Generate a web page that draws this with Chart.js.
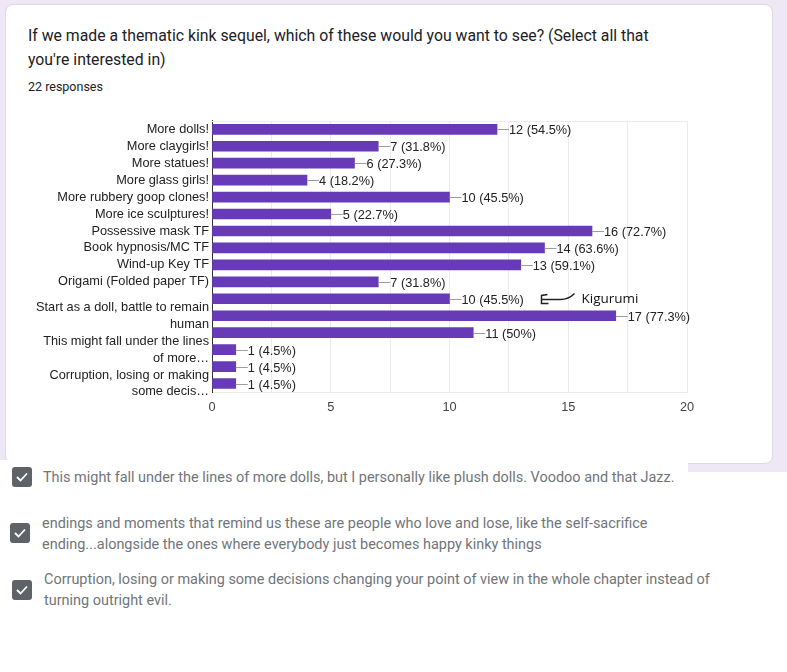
<!DOCTYPE html>
<html>
<head>
<meta charset="utf-8">
<script src="https://cdn.jsdelivr.net/npm/chart.js@4.4.1/dist/chart.umd.min.js"></script>
<style>
  body { margin: 0; width: 787px; height: 672px; background: #fff; position: relative; overflow: hidden; font-family: Roboto, Arial, sans-serif; }
  #bg { position: absolute; left: 0; top: 0; width: 787px; height: 472px; background: #ede7f6; }
  #card { position: absolute; left: 5px; top: 4px; width: 768px; height: 460px; background: #fff; border: 1px solid #dadce0; border-radius: 8px; box-sizing: border-box; }
  #title { position: absolute; left: 28px; top: 24px; font-size: 15.8px; line-height: 24px; color: #202124; white-space: nowrap; }
  #count { position: absolute; left: 28px; top: 79px; font-size: 12.5px; line-height: 16px; color: #202124; }
  #chart { position: absolute; left: 0; top: 101px; }
  #cover { position: absolute; left: 0; top: 460px; width: 688px; height: 212px; background: #fff; }
  .item { position: absolute; font-size: 14.45px; line-height: 21px; color: #70757a; white-space: nowrap; }
  .box { position: absolute; width: 20px; height: 20px; background: #5f6368; border-radius: 3px; }
  .box svg { display: block; }
</style>
</head>
<body>
<div id="bg"></div>
<div id="card"></div>
<div id="title">If we made a thematic kink sequel, which of these would you want to see? (Select all that<br>you're interested in)</div>
<div id="count">22 responses</div>
<canvas id="chart" width="760" height="319"></canvas>
<div id="cover"></div>

<div class="box" style="left:12px;top:467px"><svg width="20" height="20"><polyline points="5,10 8.5,13.5 15,6.5" fill="none" stroke="#fff" stroke-width="1.8"/></svg></div>
<div class="item" style="left:43px;top:467px">This might fall under the lines of more dolls, but I personally like plush dolls. Voodoo and that Jazz.</div>

<div class="box" style="left:10px;top:523px"><svg width="20" height="20"><polyline points="5,10 8.5,13.5 15,6.5" fill="none" stroke="#fff" stroke-width="1.8"/></svg></div>
<div class="item" style="left:42px;top:513px">endings and moments that remind us these are people who love and lose, like the self-sacrifice<br>ending...alongside the ones where everybody just becomes happy kinky things</div>

<div class="box" style="left:12px;top:580px"><svg width="20" height="20"><polyline points="5,10 8.5,13.5 15,6.5" fill="none" stroke="#fff" stroke-width="1.8"/></svg></div>
<div class="item" style="left:44px;top:569px">Corruption, losing or making some decisions changing your point of view in the whole chapter instead of<br>turning outright evil.</div>

<script>
// Antworten (Kategorien wie im Diagramm beschriftet, leere = ausgelassene Beschriftung)
const categories = [
  'More dolls!',
  'More claygirls!',
  'More statues!',
  'More glass girls!',
  'More rubbery goop clones!',
  'More ice sculptures!',
  'Possessive mask TF',
  'Book hypnosis/MC TF',
  'Wind-up Key TF',
  'Origami (Folded paper TF)',
  '',
  ['Start as a doll, battle to remain', 'human'],
  '',
  ['This might fall under the lines', 'of more…'],
  '',
  ['Corruption, losing or making', 'some decis…']
];
const counts = [12, 7, 6, 4, 10, 5, 16, 14, 13, 7, 10, 17, 11, 1, 1, 1];
const percents = ['54.5%', '31.8%', '27.3%', '18.2%', '45.5%', '22.7%', '72.7%', '63.6%', '59.1%', '31.8%', '45.5%', '77.3%', '50%', '4.5%', '4.5%', '4.5%'];
const xTicks = [0, 5, 10, 15, 20];

const chartFont = '"Liberation Sans", Arial, sans-serif';
const fontSize = 12.75;

// Wert-Beschriftungen mit kurzer Linie rechts vom Balken
const valueLabels = {
  id: 'valueLabels',
  afterDatasetsDraw(chart) {
    const ctx = chart.ctx;
    const meta = chart.getDatasetMeta(0);
    const area = chart.chartArea;
    ctx.save();
    // obere Rahmenlinie
    ctx.strokeStyle = '#ebebeb';
    ctx.lineWidth = 1;
    ctx.beginPath();
    ctx.moveTo(area.left, Math.round(area.top) + 0.5);
    ctx.lineTo(area.right, Math.round(area.top) + 0.5);
    ctx.stroke();

    ctx.font = fontSize + 'px ' + chartFont;
    ctx.textBaseline = 'middle';
    meta.data.forEach((bar, i) => {
      const y = Math.round(bar.y) + 0.5;
      ctx.strokeStyle = '#9e9e9e';
      ctx.beginPath();
      ctx.moveTo(bar.x, y);
      ctx.lineTo(bar.x + 12, y);
      ctx.stroke();
      ctx.fillStyle = '#222';
      ctx.fillText(counts[i] + ' (' + percents[i] + ')', bar.x + 12, y + 0.5);
    });

    // handschriftliche Notiz "Kigurumi"
    const ax = chart.scales.x.getPixelForValue(14);
    const ay = Math.round(meta.data[10].y) + 0.5;
    ctx.strokeStyle = '#222';
    ctx.lineWidth = 1.5;
    ctx.beginPath();
    ctx.moveTo(ax + 30, ay - 6);
    ctx.quadraticCurveTo(ax + 24, ay, ax + 16, ay);
    ctx.lineTo(ax - 3, ay);
    ctx.moveTo(ax + 3, ay - 5);
    ctx.lineTo(ax - 3, ay - 4);
    ctx.lineTo(ax - 3, ay + 4);
    ctx.lineTo(ax + 4, ay + 4);
    ctx.stroke();
    ctx.fillStyle = '#111';
    ctx.font = '13.5px "Open Sans", sans-serif';
    ctx.textBaseline = 'alphabetic';
    ctx.fillText('Kigurumi', ax + 37, ay + 3);
    ctx.restore();
  }
};

new Chart(document.getElementById('chart'), {
  type: 'bar',
  data: {
    labels: categories,
    datasets: [{
      data: counts,
      backgroundColor: '#673ab7',
      borderWidth: 0,
      barThickness: 10
    }]
  },
  options: {
    indexAxis: 'y',
    responsive: false,
    animation: false,
    layout: { padding: { top: 10, right: 73, left: 0, bottom: 0 } },
    plugins: {
      legend: { display: false },
      tooltip: { enabled: false }
    },
    scales: {
      x: {
        min: 0,
        max: 20,
        afterFit: function(scale) { scale.height = 28; },
        ticks: {
          stepSize: 2.5,
          autoSkip: false,
          padding: 8,
          color: '#444',
          font: { family: chartFont, size: fontSize },
          callback: function(value) {
            return xTicks.includes(value) ? value : '';
          }
        },
        grid: {
          drawTicks: false,
          color: function(c) { return c.index === 0 ? 'rgba(0,0,0,0)' : '#ebebeb'; }
        },
        border: { color: '#ebebeb' }
      },
      y: {
        afterFit: function(scale) { scale.width = 212; },
        ticks: {
          autoSkip: false,
          padding: 3,
          color: '#222',
          font: { family: chartFont, size: fontSize, lineHeight: 1.32 }
        },
        grid: { display: false, drawTicks: false },
        border: { color: '#333' }
      }
    }
  },
  plugins: [valueLabels]
});
</script>
</body>
</html>
